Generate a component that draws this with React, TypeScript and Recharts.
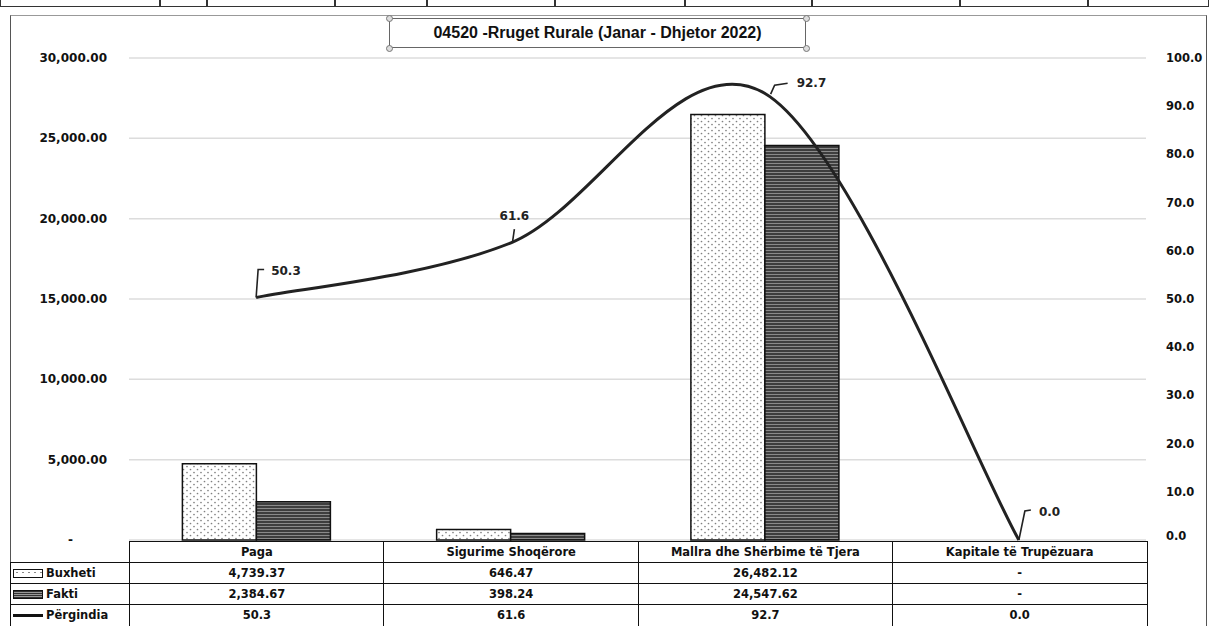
import { ComposedChart, Bar, Line, XAxis, YAxis, CartesianGrid, LabelList } from 'recharts'

const categories = ['Paga', 'Sigurime Shoqërore', 'Mallra dhe Shërbime të Tjera', 'Kapitale të Trupëzuara']
const buxheti = [4739.37, 646.47, 26482.12, 0]
const fakti = [2384.67, 398.24, 24547.62, 0]
const perqindja = [50.3, 61.6, 92.7, 0.0]
const leftTicks = [0, 5000, 10000, 15000, 20000, 25000, 30000]
const rightTicks = [0, 10, 20, 30, 40, 50, 60, 70, 80, 90, 100]
const title = '04520 -Rruget Rurale (Janar - Dhjetor 2022)'

const data = categories.map((name, i) => ({
  name,
  buxheti: buxheti[i],
  fakti: fakti[i],
  perqindja: perqindja[i],
}))

const FONT = "'DejaVu Sans', Verdana, sans-serif"
const W = 1210
const H = 626
const PLOT_L = 129
const PLOT_R = 1146
const PLOT_T = 58
const PLOT_B = 540

const fmtMoney = (v: number) =>
  v === 0 ? '-' : v.toLocaleString('en-US', { minimumFractionDigits: 2, maximumFractionDigits: 2 })

// Excel-style smoothed line (Catmull-Rom bezier, endpoints duplicated)
const excelSmooth = (context: any) => {
  let pts: number[][] = []
  return {
    areaStart() {},
    areaEnd() {},
    lineStart() { pts = [] },
    point(x: number, y: number) { pts.push([x, y]) },
    lineEnd() {
      if (!pts.length) return
      context.moveTo(pts[0][0], pts[0][1])
      for (let i = 0; i < pts.length - 1; i++) {
        const p0 = pts[i - 1] || pts[i]
        const p1 = pts[i]
        const p2 = pts[i + 1]
        const p3 = pts[i + 2] || pts[i + 1]
        context.bezierCurveTo(
          p1[0] + (p2[0] - p0[0]) / 6, p1[1] + (p2[1] - p0[1]) / 6,
          p2[0] - (p3[0] - p1[0]) / 6, p2[1] - (p3[1] - p1[1]) / 6,
          p2[0], p2[1],
        )
      }
    },
  }
}

// leader line + text per point, offsets from the point
const labelOffsets = [
  { path: [[0, 0], [2, -28], [8, -28]], tx: 15, ty: -27, anchor: 'start' },
  { path: [[2, 0], [4, -14]], tx: 4, ty: -27, anchor: 'middle' },
  { path: [[6, 1], [10, -8], [23, -10]], tx: 32, ty: -10, anchor: 'start' },
  { path: [[0, 0], [6, -29], [12, -30]], tx: 20, ty: -28, anchor: 'start' },
]

const PointLabel = (props: any) => {
  const { x, y, value, index } = props
  const o = labelOffsets[index]
  if (!o) return null
  const d = o.path.map((p, i) => `${i ? 'L' : 'M'}${x + p[0]},${y + p[1]}`).join(' ')
  return (
    <g>
      <path d={d} stroke="#222" strokeWidth={1.6} fill="none" />
      <text x={x + o.tx} y={y + o.ty} textAnchor={o.anchor as any} dominantBaseline="central"
        fontFamily={FONT} fontSize={12} fontWeight="bold" fill="#222">
        {Number(value).toFixed(1)}
      </text>
    </g>
  )
}

const LeftTick = (props: any) => {
  const { x, y, payload } = props
  const zero = payload.value === 0
  return (
    <text x={zero ? x - 34 : x} y={y} textAnchor="end" dominantBaseline="central"
      fontFamily={FONT} fontSize={12} fontWeight="bold" fill="#111">
      {zero ? '-' : fmtMoney(payload.value)}
    </text>
  )
}

const RightTick = (props: any) => {
  const { x, y, payload } = props
  return (
    <text x={x} y={payload.value === 0 ? y - 4 : y} textAnchor="start" dominantBaseline="central"
      fontFamily={FONT} fontSize={11.5} fontWeight="bold" fill="#111">
      {Number(payload.value).toFixed(1)}
    </text>
  )
}

const topStripX = [0, 160, 207, 335, 427, 555, 685, 812, 960, 1088, 1209]

const colW = (PLOT_R - PLOT_L) / categories.length
const rowTops = [541, 562, 583, 604]
const rowH = 21
const cell: any = {
  position: 'absolute',
  boxSizing: 'border-box',
  border: '1.5px solid #111',
  fontFamily: FONT,
  fontSize: 11.5,
  fontWeight: 'bold',
  color: '#111',
  display: 'flex',
  alignItems: 'center',
  justifyContent: 'center',
  background: '#fff',
}

const rows = [
  { label: 'Buxheti', values: buxheti.map(fmtMoney), swatch: 'dots' },
  { label: 'Fakti', values: fakti.map(fmtMoney), swatch: 'lines' },
  { label: 'Përgindia', values: perqindja.map((v) => v.toFixed(1)), swatch: 'line' },
]

const Swatch = ({ kind }: { kind: string }) => {
  if (kind === 'line')
    return <div style={{ width: 30, height: 3, background: '#111', marginRight: 3 }} />
  if (kind === 'lines')
    return (
      <div style={{
        width: 30, height: 9, boxSizing: 'border-box', border: '1px solid #111', marginRight: 3,
        background: 'repeating-linear-gradient(#333 0px, #333 1px, #999 1px, #999 2px)',
      }} />
    )
  return (
    <div style={{
      width: 30, height: 9, boxSizing: 'border-box', border: '1px solid #111', marginRight: 3,
      background: 'radial-gradient(#888 0.8px, transparent 1px) 0 0 / 6px 5px, #fff',
    }} />
  )
}

export default function App() {
  return (
    <div style={{ position: 'absolute', left: 0, top: 0, width: W, height: H, overflow: 'hidden', background: '#fff' }}>
      {/* cut-off table row above the chart */}
      {topStripX.slice(0, -1).map((x, i) => (
        <div key={i} style={{
          position: 'absolute', left: x, top: -2, width: topStripX[i + 1] - x, height: 9,
          boxSizing: 'border-box', border: '1.5px solid #333',
        }} />
      ))}
      {/* chart frame */}
      <div style={{
        position: 'absolute', left: 10, top: 15, width: 1197, height: 640,
        boxSizing: 'border-box', border: '1.5px solid #555', borderTopColor: '#999',
      }} />
      <div style={{ position: 'absolute', left: 0, top: 0 }}>
        <ComposedChart width={W} height={H} data={data}
          margin={{ top: PLOT_T, right: 0, bottom: H - PLOT_B, left: 0 }}
          barCategoryGap="21%" barGap={0}>
          <defs>
            <pattern id="dots" width="7" height="6" patternUnits="userSpaceOnUse">
              <rect width="7" height="6" fill="#fff" />
              <circle cx="1.5" cy="1.5" r="0.85" fill="#808080" />
              <circle cx="5" cy="4.5" r="0.85" fill="#808080" />
            </pattern>
            <pattern id="hlines" width="6" height="3" patternUnits="userSpaceOnUse">
              <rect width="6" height="3" fill="#3e3e3e" />
              <rect y="1" width="6" height="1" fill="#8a8a8a" />
            </pattern>
          </defs>
          <CartesianGrid yAxisId="left" vertical={false} stroke="#dcdcdc" strokeWidth={1.5} />
          <XAxis dataKey="name" hide />
          <YAxis yAxisId="left" orientation="left" width={PLOT_L} domain={[0, 30000]} ticks={leftTicks}
            axisLine={false} tickLine={false} tickSize={0} tickMargin={22} tick={<LeftTick />} />
          <YAxis yAxisId="right" orientation="right" width={W - PLOT_R} domain={[0, 100]} ticks={rightTicks}
            axisLine={false} tickLine={false} tickSize={0} tickMargin={20} tick={<RightTick />} />
          <Bar yAxisId="left" dataKey="buxheti" name="Buxheti" fill="url(#dots)" stroke="#111"
            strokeWidth={1.5} isAnimationActive={false} />
          <Bar yAxisId="left" dataKey="fakti" name="Fakti" fill="url(#hlines)" stroke="#111"
            strokeWidth={1.5} isAnimationActive={false} />
          <Line yAxisId="right" dataKey="perqindja" name="Përgindia" type={excelSmooth as any} stroke="#222"
            strokeWidth={3} dot={false} isAnimationActive={false}>
            <LabelList dataKey="perqindja" content={<PointLabel />} />
          </Line>
        </ComposedChart>
      </div>
      {/* title box */}
      <div style={{
        position: 'absolute', left: 389, top: 18, width: 417, height: 30, boxSizing: 'border-box',
        border: '1px solid #666', display: 'flex', alignItems: 'center', justifyContent: 'center',
        fontFamily: "'Liberation Sans', Arial, sans-serif", fontWeight: 'bold', fontSize: 16, color: '#111',
      }}>
        {title}
      </div>
      {[[389, 18], [806, 18], [389, 48], [806, 48]].map(([cx, cy], i) => (
        <div key={i} style={{
          position: 'absolute', left: cx - 3.5, top: cy - 3.5, width: 7, height: 7, borderRadius: '50%',
          boxSizing: 'border-box', border: '1px solid #777', background: '#ddd',
        }} />
      ))}
      {/* data table */}
      {categories.map((c, j) => (
        <div key={c} style={{ ...cell, left: PLOT_L + j * colW, top: rowTops[0], width: colW + 1.5, height: rowH + 1.5 }}>
          {c}
        </div>
      ))}
      {rows.map((r, i) => (
        <div key={r.label}>
          <div style={{
            ...cell, left: 10, top: rowTops[i + 1], width: PLOT_L - 10 + 1.5, height: rowH + 1.5,
            justifyContent: 'flex-start', paddingLeft: 2,
          }}>
            <Swatch kind={r.swatch} />
            {r.label}
          </div>
          {r.values.map((v, j) => (
            <div key={j} style={{ ...cell, left: PLOT_L + j * colW, top: rowTops[i + 1], width: colW + 1.5, height: rowH + 1.5 }}>
              {v}
            </div>
          ))}
        </div>
      ))}
    </div>
  )
}
